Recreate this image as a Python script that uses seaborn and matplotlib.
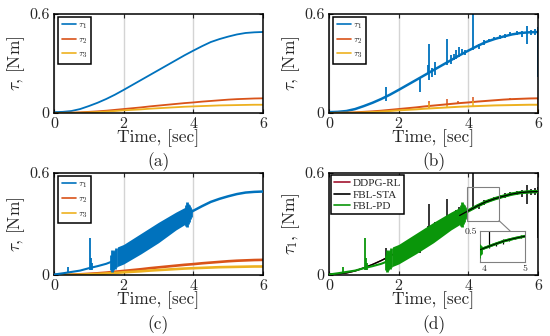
import numpy as np
import pandas as pd
import matplotlib
matplotlib.use('Agg')
import matplotlib.pyplot as plt
import seaborn as sns
from matplotlib.lines import Line2D
from matplotlib.patches import Rectangle, ConnectionPatch

sns.set_style('ticks')
plt.rcParams['font.family'] = 'serif'
plt.rcParams['font.serif'] = ['cmr10']
plt.rcParams['mathtext.fontset'] = 'cm'
plt.rcParams['axes.formatter.use_mathtext'] = True
plt.rcParams['axes.unicode_minus'] = False

# MATLAB-ish colours
c_blue, c_orange, c_yellow = '#0072BD', '#D95319', '#EDB120'
c_red, c_black, c_green = '#A2142F', '#000000', '#0a960a'

# reference joint torques (read every 0.25 s)
t_ref = [0, 0.25, 0.5, 0.75, 1.0, 1.25, 1.5, 1.75, 2.0, 2.25, 2.5, 2.75, 3.0,
         3.25, 3.5, 3.75, 4.0, 4.25, 4.5, 4.75, 5.0, 5.25, 5.5, 5.75, 6.0]
tau1_ref = [0.005, 0.007, 0.012, 0.024, 0.042, 0.062, 0.085, 0.111, 0.140, 0.170,
            0.200, 0.230, 0.260, 0.290, 0.320, 0.350, 0.378, 0.405, 0.430, 0.448,
            0.463, 0.476, 0.485, 0.489, 0.491]
tau2_ref = [0.0, 0.001, 0.002, 0.004, 0.007, 0.010, 0.014, 0.019, 0.024, 0.029,
            0.034, 0.040, 0.045, 0.050, 0.055, 0.060, 0.064, 0.069, 0.073, 0.077,
            0.081, 0.084, 0.086, 0.088, 0.089]
tau3_ref = [0.0, 0.0005, 0.001, 0.002, 0.004, 0.006, 0.009, 0.012, 0.016, 0.019,
            0.022, 0.026, 0.029, 0.032, 0.035, 0.038, 0.040, 0.042, 0.044, 0.046,
            0.047, 0.048, 0.049, 0.050, 0.050]

# (b) / FBL-STA spikes on tau1: time, low, high
spk1_t = [1.63, 2.60, 2.83, 2.88, 2.95, 3.05, 3.38, 3.50, 3.58, 3.66, 3.74, 3.82,
          3.90, 4.13, 4.30, 4.45, 4.60, 4.75, 4.90, 5.05, 5.20, 5.40, 5.55, 5.68,
          5.80, 5.92, 5.99]
spk1_lo = [0.075, 0.13, 0.24, 0.20, 0.22, 0.23, 0.29, 0.30, 0.32, 0.33, 0.34, 0.35,
           0.35, 0.38, 0.39, 0.41, 0.43, 0.44, 0.45, 0.455, 0.465, 0.47, 0.46, 0.42,
           0.47, 0.47, 0.22]
spk1_hi = [0.16, 0.22, 0.29, 0.42, 0.27, 0.31, 0.45, 0.35, 0.36, 0.38, 0.40, 0.39,
           0.38, 0.60, 0.42, 0.44, 0.45, 0.46, 0.47, 0.48, 0.49, 0.495, 0.50, 0.53,
           0.505, 0.51, 0.52]
spk2_t = [1.63, 2.88, 3.38, 3.70, 4.13, 4.60, 5.20, 5.99]
spk2_lo = [0.005, 0.03, 0.045, 0.055, 0.06, 0.07, 0.08, 0.0]
spk2_hi = [0.02, 0.07, 0.085, 0.07, 0.10, 0.08, 0.09, 0.09]
spk3_t = [2.88, 3.38, 4.13, 5.99]
spk3_lo = [0.025, 0.03, 0.035, 0.0]
spk3_hi = [0.06, 0.05, 0.07, 0.05]

# (c) / FBL-PD tau1: early part, oscillating band and bursts
t_early = [0, 0.25, 0.5, 0.75, 1.0, 1.25, 1.5, 1.65]
tau1_early = [0.003, 0.010, 0.018, 0.026, 0.040, 0.052, 0.066, 0.078]
spkc_t = [0.40, 1.03, 1.06, 1.10]
spkc_lo = [0.01, 0.03, 0.03, 0.03]
spkc_hi = [0.05, 0.215, 0.10, 0.07]
burst1_t = [1.63, 1.66, 1.69, 1.72, 1.75, 1.78]
burst1_lo = [0.03, 0.02, 0.03, 0.04, 0.035, 0.05]
burst1_hi = [0.12, 0.15, 0.14, 0.13, 0.15, 0.16]
t_band = [1.82, 2.0, 2.5, 3.0, 3.5, 3.78]
band_lo = [0.05, 0.065, 0.125, 0.19, 0.265, 0.30]
band_hi = [0.165, 0.18, 0.245, 0.31, 0.37, 0.40]
burst2_t = [3.78, 3.81, 3.84, 3.87, 3.90, 3.93]
burst2_lo = [0.29, 0.28, 0.30, 0.31, 0.33, 0.34]
burst2_hi = [0.41, 0.43, 0.42, 0.41, 0.40, 0.39]

x_ticks = [0, 2, 4, 6]
x_ticklabels = ['0', '2', '4', '6']
y_ticks = [0, 0.6]
y_ticklabels = ['0', '0.6']

fig = plt.figure(figsize=(5.5, 3.36), dpi=100)
W, H = 550, 336


def add_ax(l, t, r, b):
    return fig.add_axes([l / W, 1 - b / H, (r - l) / W, (b - t) / H])


def line(ax, x, y, color, lw, z=2):
    sns.lineplot(x=x, y=y, ax=ax, color=color, linewidth=lw, zorder=z,
                 legend=False, estimator=None)


def style(ax, ylab, tag):
    ax.set_xlim(0, 6)
    ax.set_ylim(0, 0.6)
    ax.set_xticks(x_ticks, x_ticklabels)
    ax.set_yticks(y_ticks, y_ticklabels)
    ax.xaxis.grid(True, color='#d4d4d4', lw=1.0)
    ax.set_axisbelow(True)
    ax.tick_params(direction='in', length=3, width=0.8, top=True, right=True,
                   labelsize=11.5, pad=3)
    for s in ax.spines.values():
        s.set_linewidth(1.1)
        s.set_color('black')
    ax.set_xlabel('Time, [sec]', fontsize=12.5, labelpad=-1)
    ax.set_ylabel(ylab, fontsize=12.5, labelpad=2)
    ax.text(0.5, -0.49, tag, transform=ax.transAxes, ha='center', va='center',
            fontsize=12.5)


def tau_legend(ax):
    hs = [Line2D([], [], color=c, lw=1.2) for c in (c_blue, c_orange, c_yellow)]
    leg = ax.legend(hs, [r'$\tau_1$', r'$\tau_2$', r'$\tau_3$'], loc='upper left',
                    bbox_to_anchor=(0.02, 0.97), fontsize=7, fancybox=False,
                    edgecolor='black', framealpha=1, handlelength=1.5,
                    handletextpad=0.2, labelspacing=0.45, borderpad=0.35,
                    borderaxespad=0)
    leg.get_frame().set_linewidth(1.1)


ax_a = add_ax(54, 14, 263, 113)
ax_b = add_ax(329, 14, 538, 113)
ax_c = add_ax(54, 173, 263, 275)
ax_d = add_ax(329, 173, 538, 275)

# (a) reference torques
line(ax_a, t_ref, tau1_ref, c_blue, 1.3)
line(ax_a, t_ref, tau2_ref, c_orange, 1.3)
line(ax_a, t_ref, tau3_ref, c_yellow, 1.3)
style(ax_a, r'$\tau$, [Nm]', '(a)')
tau_legend(ax_a)

# (b) with spikes
line(ax_b, t_ref, tau1_ref, c_blue, 1.8)
ax_b.vlines(spk1_t, spk1_lo, spk1_hi, color=c_blue, lw=1.3, zorder=2)
line(ax_b, t_ref, tau2_ref, c_orange, 1.4)
ax_b.vlines(spk2_t, spk2_lo, spk2_hi, color=c_orange, lw=1.1, zorder=2)
line(ax_b, t_ref, tau3_ref, c_yellow, 1.4)
ax_b.vlines(spk3_t, spk3_lo, spk3_hi, color=c_yellow, lw=1.1, zorder=2)
style(ax_b, r'$\tau$, [Nm]', '(b)')
tau_legend(ax_b)


def chattering(ax, color, z=2):
    line(ax, t_early, tau1_early, color, 1.5, z)
    ax.vlines(spkc_t, spkc_lo, spkc_hi, color=color, lw=1.3, zorder=z)
    ax.vlines(burst1_t, burst1_lo, burst1_hi, color=color, lw=2.0, zorder=z)
    ax.fill_between(t_band, band_lo, band_hi, color=color, lw=0, zorder=z)
    ax.vlines(burst2_t, burst2_lo, burst2_hi, color=color, lw=2.0, zorder=z)
    line(ax, t_ref[15:], tau1_ref[15:], color, 1.8, z)


# (c)
line(ax_c, t_ref, tau2_ref, c_orange, 1.9)
line(ax_c, t_ref, tau3_ref, c_yellow, 1.9)
chattering(ax_c, c_blue, 3)
style(ax_c, r'$\tau$, [Nm]', '(c)')
tau_legend(ax_c)


# (d) comparison on tau1
def compare(ax, lw_scale=1.0):
    line(ax, t_ref, tau1_ref, c_red, 1.0 * lw_scale, 2)
    line(ax, t_ref[:17], tau1_ref[:17], c_black, 1.0 * lw_scale, 2)
    ax.vlines(spk1_t, spk1_lo, spk1_hi, color=c_black, lw=1.1 * lw_scale, zorder=2.5)
    chattering(ax, c_green, 3)
    line(ax, t_ref[15:], tau1_ref[15:], c_green, 2.4 * lw_scale, 3)
    line(ax, t_ref[15:], tau1_ref[15:], c_black, 0.9 * lw_scale, 4)


compare(ax_d)
style(ax_d, r'$\tau_1$, [Nm]', '(d)')
hs = [Line2D([], [], color=c, lw=1.2) for c in (c_red, c_black, c_green)]
leg = ax_d.legend(hs, ['DDPG-RL', 'FBL-STA', 'FBL-PD'], loc='upper left',
                  bbox_to_anchor=(0.01, 0.98), prop={'family': 'Liberation Serif', 'size': 8},
                  fancybox=False, edgecolor='black', framealpha=1, handlelength=1.4,
                  handletextpad=0.2, labelspacing=0.15, borderpad=0.3, borderaxespad=0)
leg.get_frame().set_linewidth(1.1)

# zoom box and inset
ax_d.add_patch(Rectangle((3.97, 0.32), 0.91, 0.20, fill=False, ec='#808080', lw=0.8, zorder=5))
ax_in = add_ax(480, 231, 525, 262)
compare(ax_in, 0.8)
ax_in.set_xlim(3.9, 5.0)
ax_in.set_ylim(0.28, 0.5)
ax_in.set_xticks([4, 5], ['4', '5'])
ax_in.set_yticks([0.5], ['0.5'])
ax_in.tick_params(length=0, labelsize=7, pad=2)
ax_in.set_xlabel('')
ax_in.set_ylabel('')
for s in ax_in.spines.values():
    s.set_color('#808080')
    s.set_linewidth(0.8)
con = ConnectionPatch(xyA=(4.88, 0.32), coordsA='data', axesA=ax_d,
                      xyB=(0.67, 1.0), coordsB='axes fraction', axesB=ax_in,
                      color='#808080', lw=0.8)
fig.add_artist(con)

fig.savefig('out.png', dpi=100)
